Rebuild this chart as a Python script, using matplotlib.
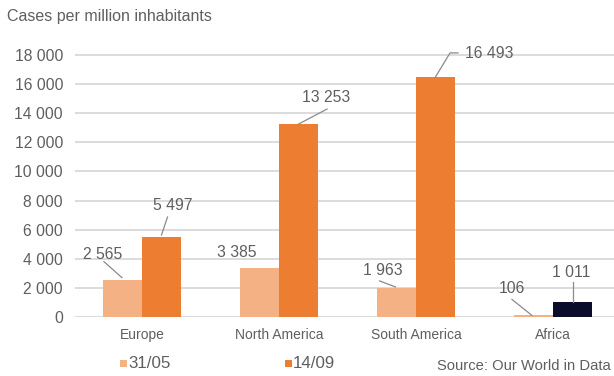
import numpy as np
import matplotlib
matplotlib.use('Agg')
import matplotlib.pyplot as plt
from matplotlib.transforms import Affine2D, ScaledTranslation
from matplotlib.patches import Rectangle

# ---- data ----
regions = ['Europe', 'North America', 'South America', 'Africa']
series_names = ['31/05', '14/09']
cases_may = [2565, 3385, 1963, 106]
cases_sep = [5497, 13253, 16493, 1011]
y_ticks = [0, 2000, 4000, 6000, 8000, 10000, 12000, 14000, 16000, 18000]

LIGHT = '#F4B183'
DARK = '#ED7D31'
AFRICA_SEP = '#0B0B2B'
TEXT = '#5f5f5f'
GRID = '#d9d9d9'
LEADER = '#8a8a8a'

plt.rcParams['font.family'] = ['Liberation Sans', 'DejaVu Sans']

fig = plt.figure(figsize=(6.14, 3.76), dpi=100)
ax = fig.add_axes([0.1221, 0.1569, 0.8779, 0.7356])

x = np.arange(len(regions))
w = 0.285
sep_colors = [DARK, DARK, DARK, AFRICA_SEP]
ax.bar(x - w / 2, cases_may, w, color=LIGHT, zorder=3)
ax.bar(x + w / 2, cases_sep, w, color=sep_colors, zorder=3)

ax.set_xlim(-0.489, 3.445)
ax.set_ylim(0, 19000)
ax.set_yticks(y_ticks)
ax.set_yticklabels([f'{v:,}'.replace(',', ' ') for v in y_ticks])
ax.set_xticks(x)
ax.set_xticklabels(regions)
ax.tick_params(axis='y', length=0, pad=8.6, labelsize=11.3, labelcolor=TEXT)
ax.tick_params(axis='x', length=0, pad=8, labelsize=10, labelcolor=TEXT)
ax.grid(axis='y', color=GRID, linewidth=1.3, zorder=0)
for s in ax.spines.values():
    s.set_visible(False)


def fmt(v):
    return f'{v:,}'.replace(',', ' ')


def label(xc, val, text_off, line_pts=None):
    # text offset and leader line are given in pixels from the bar top
    ax.annotate(fmt(val), xy=(xc, val), xytext=text_off, textcoords='offset pixels',
                ha='center', va='center', fontsize=11.3, color=TEXT, zorder=5)
    if line_pts:
        tr = Affine2D() + ScaledTranslation(xc, val, ax.transData)
        xs, ys = zip(*line_pts)
        ax.plot(xs, ys, transform=tr, color=LEADER, lw=0.9, zorder=4, clip_on=False)


may_x = x - w / 2
sep_x = x + w / 2
label(may_x[0], cases_may[0], (-19.5, 24.7), [(-0.5, 2), (-18.5, 18)])
label(sep_x[0], cases_sep[0], (11, 31), [(0, 2), (6, 20)])
label(may_x[1], cases_may[1], (-23, 15))
label(sep_x[1], cases_sep[1], (27.5, 27), [(0, 0), (28.5, 15)])
label(may_x[2], cases_may[2], (-14, 18), [(-17, 7.5), (-1, 1.5)])
label(sep_x[2], cases_sep[2], (53.5, 23), [(0, 0), (14.5, 24), (22.5, 24)])
label(may_x[3], cases_may[3], (-21.5, 27), [(-21.5, 16), (-1.5, 0)])
label(sep_x[3], cases_sep[3], (-1.5, 30), [(0, 20), (0, 0)])

# title
fig.text(7 / 614, 1 - 16 / 376, 'Cases per million inhabitants', ha='left', va='center',
         fontsize=11.5, color=TEXT)

# legend
W, H = 614, 376
for (sq_x, col, name) in [(120, LIGHT, series_names[0]), (285, DARK, series_names[1])]:
    fig.add_artist(Rectangle((sq_x / W, 1 - 366.5 / H), 7 / W, 7 / H,
                             transform=fig.transFigure, color=col, lw=0))
    fig.text((sq_x + 8) / W, 1 - 363 / H, name, ha='left', va='center',
             fontsize=12.2, color=TEXT)

fig.text(611 / W, 1 - 366 / H, 'Source: Our World in Data', ha='right', va='center',
         fontsize=10.6, color=TEXT)

fig.savefig('out.png', dpi=100, facecolor='white')
